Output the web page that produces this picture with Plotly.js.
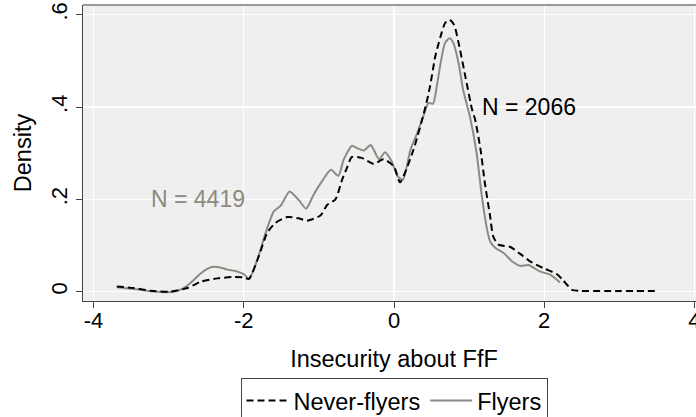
<!DOCTYPE html>
<html>
<head>
<meta charset="utf-8">
<script src="https://cdn.plot.ly/plotly-3.0.1.min.js"></script>
<style>
html, body { margin: 0; padding: 0; overflow: hidden; background: #ffffff; }
#chart { width: 712px; height: 417px; }
</style>
</head>
<body>
<div id="chart"></div>
<script>
// Flyers (solid gray) kernel density
const flyersX = [-3.69, -3.46, -3.24, -2.93, -2.80, -2.71, -2.57, -2.48, -2.40, -2.30, -2.22, -2.09, -2.00, -1.93,
  -1.82, -1.71, -1.60, -1.51, -1.39, -1.27, -1.17, -1.07, -0.96, -0.84, -0.74, -0.67, -0.56, -0.49, -0.40, -0.31,
  -0.20, -0.12, -0.03, 0.05, 0.12, 0.22, 0.31, 0.39, 0.46, 0.52, 0.57, 0.62, 0.68, 0.74, 0.79, 0.86, 0.92, 1.01,
  1.10, 1.17, 1.24, 1.28, 1.35, 1.46, 1.57, 1.68, 1.79, 1.94, 2.08, 2.21];
const flyersY = [0.010, 0.006, 0.001, 0.000, 0.008, 0.019, 0.040, 0.050, 0.054, 0.052, 0.048, 0.044, 0.038, 0.028,
  0.069, 0.127, 0.174, 0.186, 0.217, 0.199, 0.180, 0.210, 0.239, 0.264, 0.251, 0.286, 0.316, 0.311, 0.306, 0.318,
  0.287, 0.302, 0.282, 0.250, 0.243, 0.308, 0.344, 0.380, 0.409, 0.407, 0.445, 0.495, 0.539, 0.549, 0.539, 0.495, 0.437, 0.380,
  0.300, 0.206, 0.134, 0.109, 0.095, 0.084, 0.066, 0.056, 0.058, 0.044, 0.037, 0.020];

// Never-flyers (dashed black) kernel density
const neverX = [-3.69, -3.46, -3.24, -3.00, -2.75, -2.57, -2.35, -2.13, -2.00, -1.93, -1.80, -1.69, -1.58, -1.42,
  -1.27, -1.16, -0.98, -0.89, -0.78, -0.69, -0.62, -0.56, -0.43, -0.27, -0.14, 0.00, 0.08, 0.26, 0.42, 0.48, 0.55,
  0.62, 0.68, 0.74, 0.80, 0.86, 0.95, 1.04, 1.08, 1.15, 1.21, 1.28, 1.32, 1.39, 1.55, 1.68, 1.81, 1.99, 2.17, 2.25,
  2.32, 2.37, 2.48, 3.00, 3.52];
const neverY = [0.0115, 0.008, 0.002, 0.000, 0.008, 0.022, 0.029, 0.032, 0.031, 0.028, 0.077, 0.127, 0.149, 0.162,
  0.159, 0.154, 0.165, 0.188, 0.200, 0.243, 0.271, 0.292, 0.290, 0.277, 0.287, 0.271, 0.237, 0.308, 0.401, 0.445, 0.510,
  0.553, 0.582, 0.589, 0.578, 0.539, 0.466, 0.394, 0.373, 0.310, 0.235, 0.163, 0.120, 0.102, 0.097, 0.082, 0.066, 0.051, 0.038, 0.025,
  0.012, 0.004, 0.002, 0.0015, 0.0015];

const xTickVals = [-4, -2, 0, 2, 4];
const xTickText = ['-4', '-2', '0', '2', '4'];
const yTickVals = [0, 0.2, 0.4, 0.6];
const yTickText = ['0', '.2', '.4', '.6'];

const labelFlyers = 'N = 4419';
const labelNever = 'N = 2066';

const FONT = 'Liberation Sans, Arial, sans-serif';
const GRAY = '#8c8a81';

const traces = [
  {
    x: flyersX, y: flyersY, type: 'scatter', mode: 'lines', name: 'Flyers',
    line: { color: GRAY, width: 2, shape: 'spline', smoothing: 0.6 },
    legendrank: 2, hoverinfo: 'skip'
  },
  {
    x: neverX, y: neverY, type: 'scatter', mode: 'lines', name: 'Never-flyers',
    line: { color: '#000000', width: 2, dash: '7px,4px', shape: 'spline', smoothing: 0.6 },
    legendrank: 1, hoverinfo: 'skip'
  }
];

const layout = {
  width: 712, height: 417,
  margin: { l: 82.5, r: 6.5, t: 5.3, b: 115.7, pad: 0, autoexpand: false },
  paper_bgcolor: '#ffffff',
  plot_bgcolor: '#efefef',
  font: { family: FONT, size: 22, color: '#000000' },
  showlegend: true,
  legend: {
    orientation: 'h', x: 0.5, xanchor: 'center', y: -0.259, yanchor: 'top',
    bordercolor: '#444444', borderwidth: 1, bgcolor: '#ffffff',
    itemwidth: 42,
    font: { family: FONT, size: 23.5, color: '#000000' }
  },
  xaxis: {
    range: [-4.14, 4.14],
    tickvals: xTickVals, ticktext: xTickText,
    ticks: 'outside', ticklen: 6, tickwidth: 1, tickcolor: '#444444',
    ticklabelstandoff: -7,
    showline: true, linecolor: '#444444', linewidth: 1.3, mirror: false,
    showgrid: true, gridcolor: '#ffffff', gridwidth: 1.3,
    zeroline: false,
    tickfont: { family: FONT, size: 22, color: '#000000' },
    title: { text: 'Insecurity about FfF', font: { family: FONT, size: 23.5, color: '#000000' }, standoff: 18 }
  },
  yaxis: {
    range: [-0.020, 0.621],
    tickvals: yTickVals, ticktext: yTickText,
    tickangle: -90,
    ticks: 'outside', ticklen: 6, tickwidth: 1, tickcolor: '#444444',
    showline: true, linecolor: '#444444', linewidth: 1.3, mirror: false,
    showgrid: true, gridcolor: '#ffffff', gridwidth: 1.3,
    zeroline: false,
    tickfont: { family: FONT, size: 22, color: '#000000' },
    title: { text: 'Density', font: { family: FONT, size: 23.5, color: '#000000' }, standoff: 8 }
  },
  shapes: [
    { type: 'line', xref: 'paper', yref: 'paper', x0: 0, x1: 1, y0: 1, y1: 1,
      line: { color: '#7a7a7a', width: 1.3 } },
    { type: 'line', xref: 'paper', yref: 'paper', x0: 1, x1: 1, y0: 0, y1: 1,
      line: { color: '#7a7a7a', width: 1.3 } }
  ],
  annotations: [
    { x: -2.61, y: 0.2, xref: 'x', yref: 'y', text: labelFlyers, showarrow: false,
      xanchor: 'center', yanchor: 'middle', font: { family: FONT, size: 23, color: GRAY } },
    { x: 1.80, y: 0.4, xref: 'x', yref: 'y', text: labelNever, showarrow: false,
      xanchor: 'center', yanchor: 'middle', font: { family: FONT, size: 23, color: '#000000' } }
  ]
};

Plotly.newPlot('chart', traces, layout, { displayModeBar: false, staticPlot: true });
</script>
</body>
</html>
